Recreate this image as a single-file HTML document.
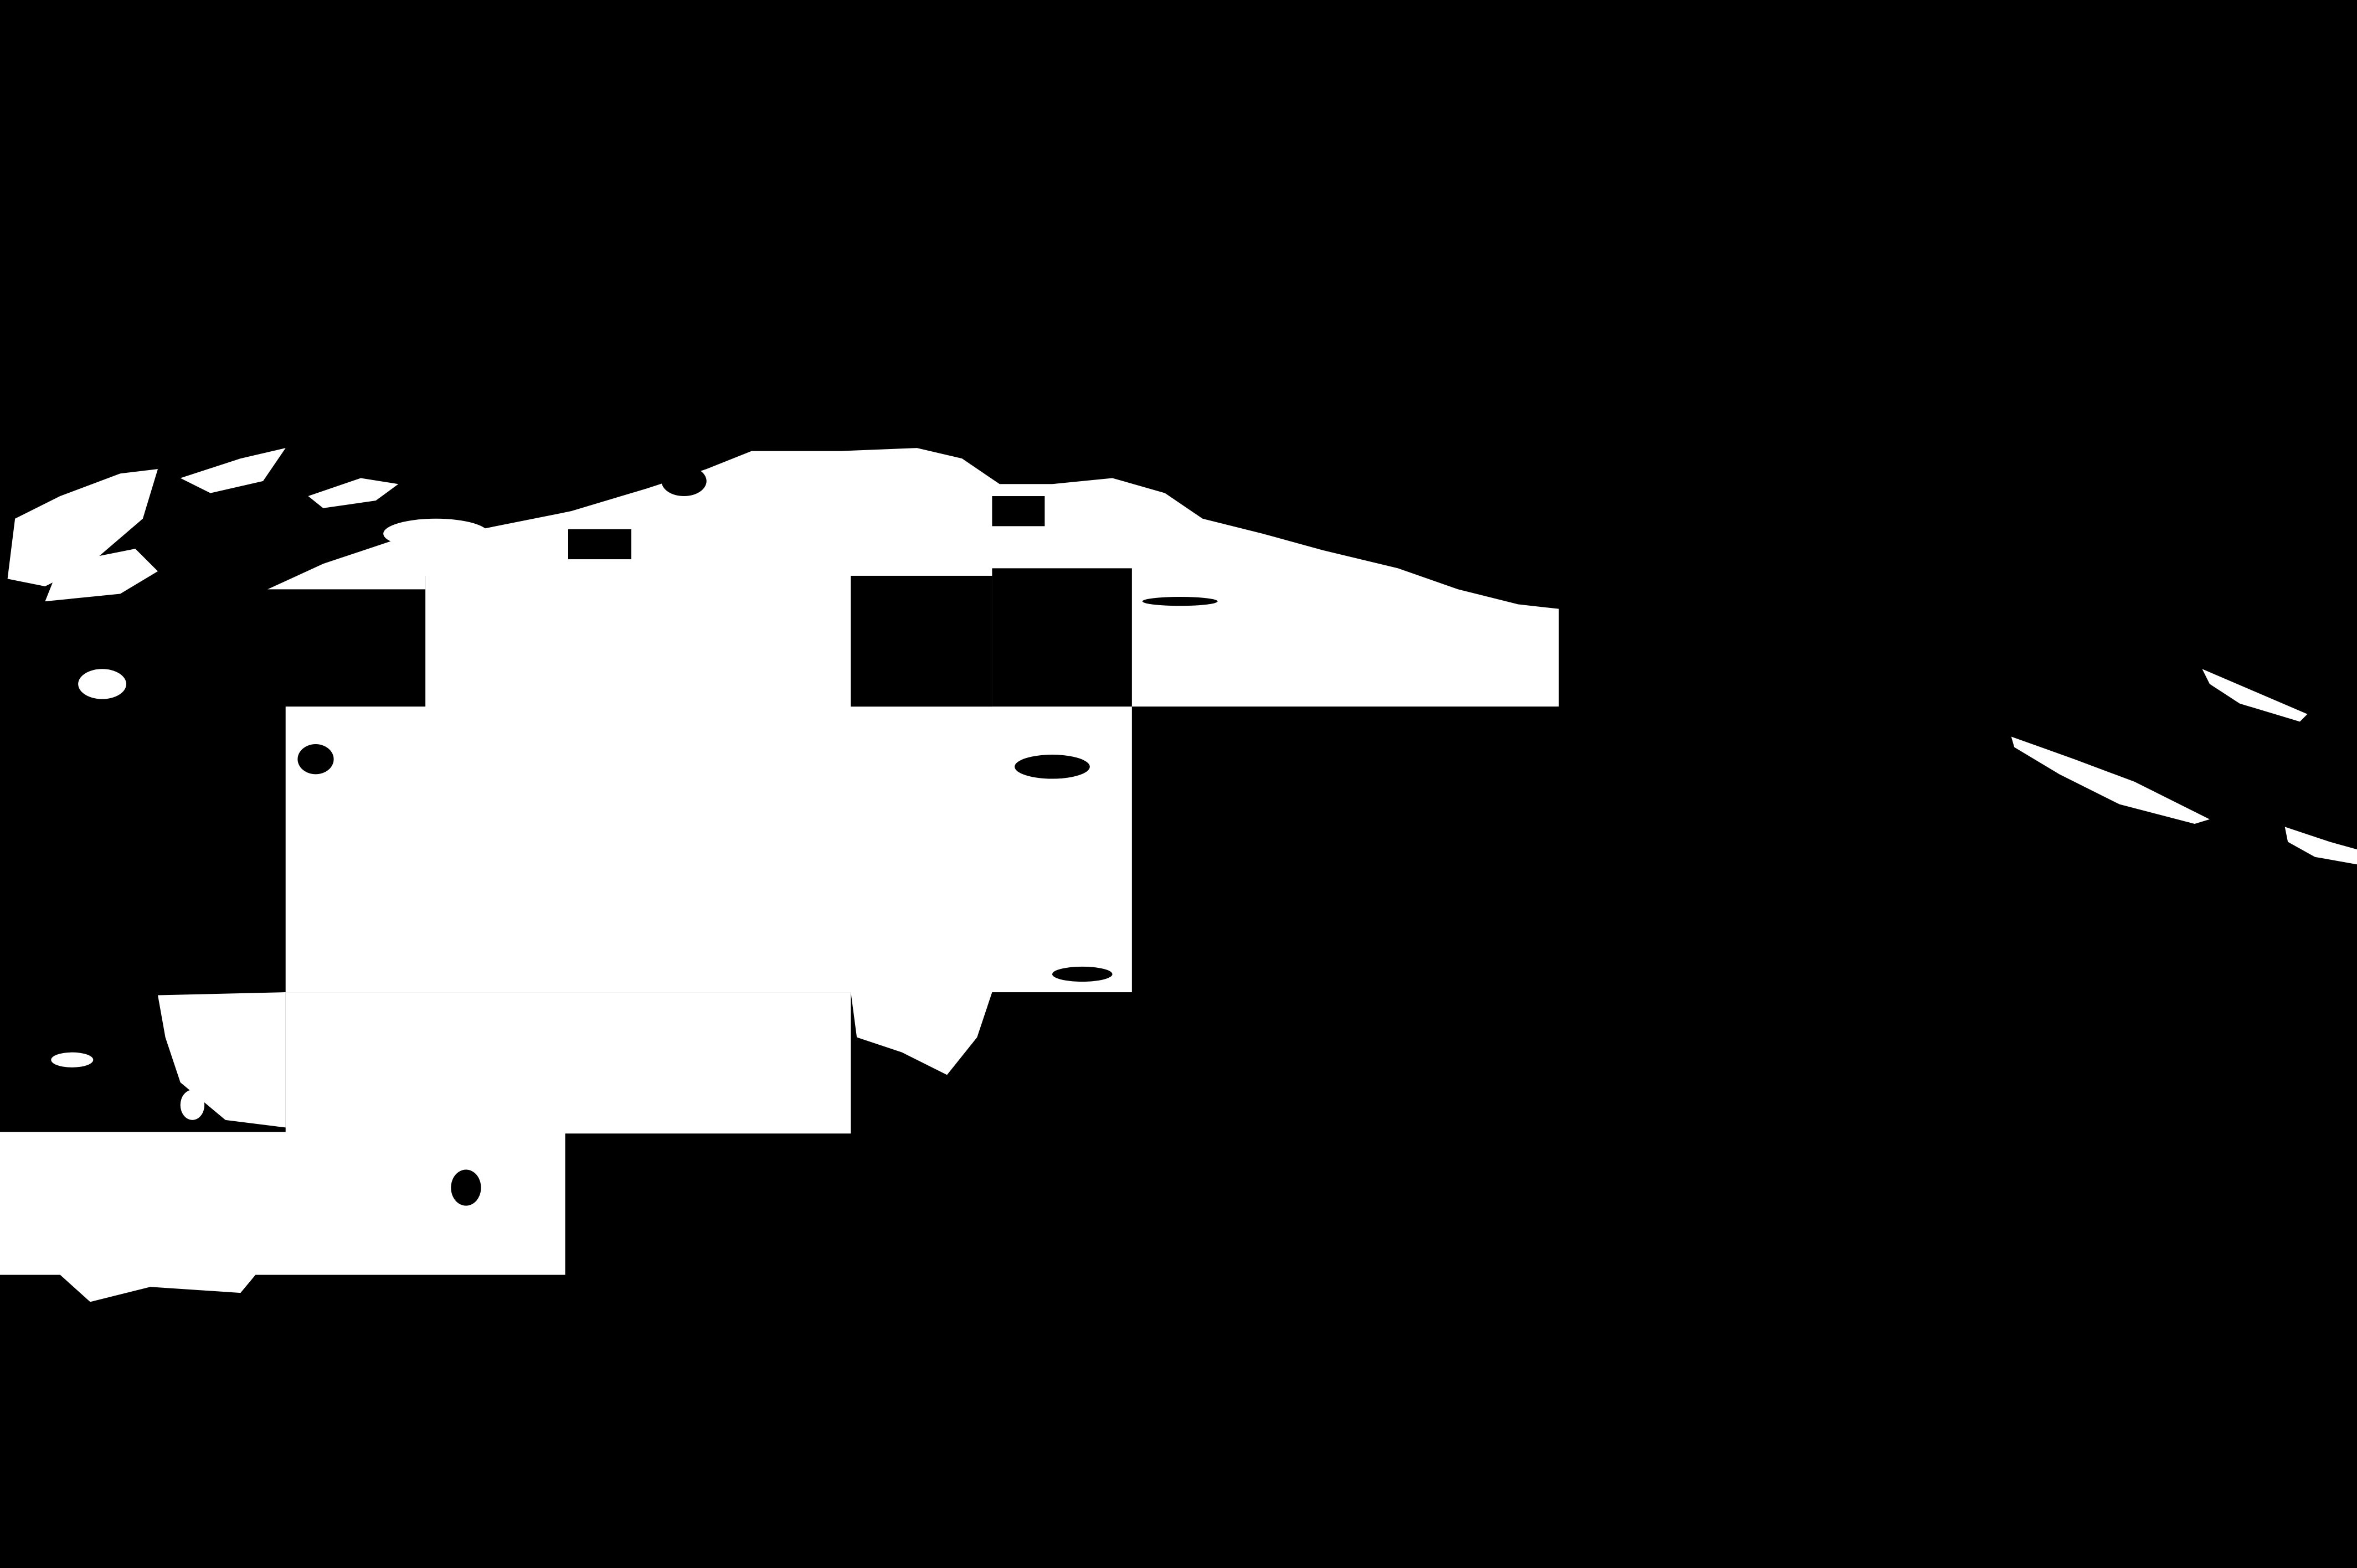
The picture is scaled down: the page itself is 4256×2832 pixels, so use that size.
<!DOCTYPE html>
<html><head><meta charset="utf-8"><style>html,body{margin:0;padding:0;background:#000;width:4256px;height:2832px;overflow:hidden}svg{display:block}</style></head>
<body>
<svg width="4256" height="2832" viewBox="0 0 1568 1043" preserveAspectRatio="none" xmlns="http://www.w3.org/2000/svg">
<rect width="1568" height="1043" fill="#000"/>
<g fill="#fff">
<path d="M178,392 L215,375 L260,360 L320,352 L380,340 L430,325 L470,312 L500,300 L560,300 L610,298 L640,305 L665,322 L700,322 L740,318 L775,328 L800,345 L840,355 L880,366 L930,378 L970,392 L1010,402 L1037,405 L1037,470 L753,470 L753,378 L660,378 L660,470 L566,470 L566,383 L283,383 L283,392 Z"/>
<rect x="283" y="383" width="283" height="90"/>
<rect x="190" y="470" width="563" height="190"/>
<rect x="190" y="660" width="376" height="94"/>
<path d="M566,660 L660,660 L650,690 L630,715 L600,700 L570,690 Z"/>
<rect x="0" y="753" width="376" height="95"/>
<path d="M10,345 L40,330 L80,315 L105,312 L95,345 L60,375 L30,390 L5,385 Z"/>
<path d="M40,375 L90,365 L105,380 L80,395 L30,400 Z"/>
<path d="M120,318 L160,305 L190,298 L175,320 L140,328 Z"/>
<path d="M205,330 L240,318 L265,322 L250,333 L215,338 Z"/>
<ellipse cx="68" cy="455" rx="16" ry="10"/>
<ellipse cx="48" cy="705" rx="14" ry="5"/>
<path d="M105,662 L190,660 L190,750 L150,745 L120,720 L110,690 Z"/>
<ellipse cx="128" cy="735" rx="8" ry="10"/>
<ellipse cx="290" cy="355" rx="35" ry="10"/>
</g>
<g fill="#000">
<rect x="378" y="352" width="42" height="20"/>
<ellipse cx="455" cy="320" rx="15" ry="10"/>
<rect x="660" y="330" width="35" height="20"/>
<ellipse cx="785" cy="400" rx="25" ry="3"/>
<ellipse cx="720" cy="648" rx="20" ry="5"/>
<ellipse cx="700" cy="510" rx="25" ry="8"/>
<ellipse cx="210" cy="505" rx="12" ry="10"/>
<ellipse cx="310" cy="790" rx="10" ry="12"/>
<rect x="566" y="383" width="94" height="87"/>
</g>
<g fill="#fff">
<path d="M1338,490 L1380,505 L1420,520 L1470,545 L1460,548 L1410,535 L1370,515 L1340,497 Z"/>
<path d="M1465,445 L1500,460 L1535,475 L1530,480 L1490,468 L1470,455 Z"/>
<path d="M1520,550 L1550,560 L1568,565 L1568,575 L1540,570 L1522,560 Z"/>
<path d="M40,848 L170,848 L160,860 L100,856 L60,866 Z"/>
</g>
</svg>
</body></html>
